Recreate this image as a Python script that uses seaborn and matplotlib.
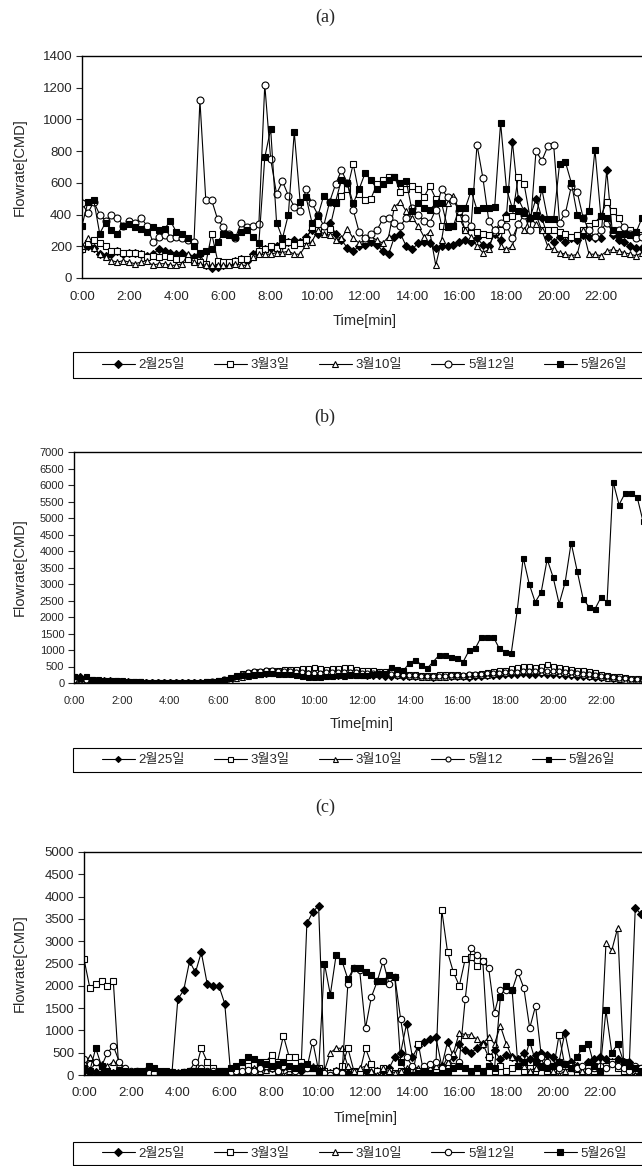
import numpy as np
import matplotlib
matplotlib.use("Agg")
import matplotlib.pyplot as plt
from matplotlib.patches import Rectangle
import seaborn as sns

# ---------------- data ----------------
hours = np.arange(96) * 0.25
names = ["2월25일", "3월3일", "3월10일", "5월12일", "5월26일"]
names_b = ["2월25일", "3월3일", "3월10일", "5월12", "5월26일"]
xtick_pos = [0, 2, 4, 6, 8, 10, 12, 14, 16, 18, 20, 22]
xtick_labels = ["0:00", "2:00", "4:00", "6:00", "8:00", "10:00", "12:00",
                "14:00", "16:00", "18:00", "20:00", "22:00"]
panel_titles = ["(a)", "(b)", "(c)"]

# panel (a)
a_0225 = [180,200,190,150, 140,150,170,150, 160,160,150,140, 150,180,170,160, 150,160,140,130, 150,80,60,70,
          80,90,110,120, 110,150,170,180, 190,200,210,230, 240,230,260,300, 280,310,350,280, 240,190,170,200,
          210,230,210,170, 150,260,280,200, 180,220,230,220, 190,200,200,210, 230,240,230,250, 210,200,280,240,
          400,860,500,420, 380,500,380,260, 230,260,230,250, 240,270,260,250, 250,680,270,240, 230,200,190,190]
a_0303 = [180,220,240,220, 200,170,170,160, 160,160,150,130, 140,130,140,130, 120,120,120,110, 100,90,280,110,
          100,100,110,120, 120,130,170,180, 200,190,210,230, 210,220,240,320, 300,290,310,470, 520,560,720,530,
          490,500,590,620, 640,640,540,560, 580,560,510,580, 500,330,330,330, 380,300,320,290, 280,270,290,300,
          380,390,640,590, 380,400,300,300, 300,290,280,260, 270,300,330,350, 390,480,420,380, 310,300,290,270]
a_0310 = [200,250,190,150, 130,110,100,110, 100,90,100,110, 80,90,90,80, 80,90,150,100, 90,80,80,80,
          80,80,90,80, 80,130,150,150, 150,160,160,170, 150,150,210,230, 300,280,270,240, 250,310,250,220,
          240,260,240,220, 260,450,480,420, 380,330,260,290, 80,240,470,520, 420,300,260,200, 160,180,310,200,
          180,200,350,300, 380,340,300,200, 180,160,150,140, 150,300,150,150, 140,170,180,170, 160,150,140,160]
a_0512 = [470,410,480,400, 360,400,380,330, 360,350,380,330, 230,260,270,250, 260,250,240,230, 1120,490,490,370,
          320,280,250,350, 320,330,340,1220, 750,530,610,520, 450,420,560,470, 400,330,480,590, 680,600,430,290,
          250,280,300,370, 380,350,330,380, 440,400,360,350, 430,560,510,490, 420,380,330,840, 630,360,300,350,
          330,250,340,400, 300,800,740,830, 840,350,410,580, 540,380,300,260, 300,350,290,300, 320,280,250,260]
a_0526 = [330,480,490,280, 350,300,280,330, 340,320,310,290, 320,300,310,360, 290,280,250,200, 160,170,180,230,
          280,270,260,290, 300,260,220,760, 940,350,250,400, 920,480,510,350, 390,520,480,480, 620,600,470,560,
          660,620,560,590, 620,640,600,610, 420,470,440,430, 470,470,320,330, 440,440,550,430, 440,440,450,980,
          560,440,420,410, 380,390,560,370, 370,720,730,600, 400,380,420,810, 390,380,300,280, 280,270,290,380]

# panel (b)
b_0225 = [150,200,120,100, 90,80,80,70, 60,50,40,30, 30,30,30,30, 30,30,30,30, 30,30,40,40,
          50,80,120,160, 200,230,250,270, 280,300,290,280, 300,320,300,280, 260,250,240,230, 220,230,250,240,
          230,220,210,200, 190,180,200,190, 180,170,180,170, 160,170,180,190, 180,170,160,180, 190,200,210,220,
          230,240,250,260, 250,240,260,250, 240,230,220,200, 190,180,170,160, 150,140,130,120, 110,100,100,90]
b_0303 = [200,150,130,110, 100,90,80,80, 70,60,50,50, 40,40,40,40, 40,40,40,40, 40,40,50,60,
          80,120,180,250, 300,330,350,370, 380,390,400,410, 420,430,440,460, 480,450,420,440, 460,480,500,420,
          400,380,380,360, 350,330,320,300, 280,260,250,240, 250,260,270,280, 260,250,260,280, 300,320,350,380,
          400,450,500,520, 510,480,520,580, 520,480,450,420, 400,380,350,320, 280,250,220,200, 180,160,150,140]
b_0310 = [120,100,90,80, 70,60,60,50, 40,40,30,30, 20,20,20,20, 20,20,20,20, 20,20,30,30,
          40,60,100,140, 180,220,250,280, 300,310,330,340, 350,340,330,320, 300,280,260,240, 230,220,230,240,
          250,260,270,280, 270,260,240,230, 220,200,190,180, 170,180,190,200, 200,210,220,230, 240,250,270,290,
          300,320,340,350, 360,350,340,330, 320,310,300,280, 260,240,220,200, 180,160,140,120, 100,90,80,70]
b_0512 = [100,90,80,70, 60,60,50,50, 40,40,40,30, 30,30,30,30, 30,30,30,30, 30,30,40,50,
          70,110,160,220, 280,320,350,370, 380,380,370,360, 350,340,320,300, 300,310,320,330, 340,330,320,320,
          310,300,300,290, 280,270,260,250, 240,230,220,210, 200,210,220,230, 240,250,260,270, 280,290,300,310,
          320,330,340,350, 360,370,380,370, 360,350,340,320, 300,280,260,240, 220,200,180,160, 140,120,110,100]
b_0526 = [200,150,220,120, 110,100,100,90, 80,70,60,50, 40,40,40,40, 40,40,40,40, 40,40,50,60,
          80,120,160,200, 230,250,270,280, 290,300,280,270, 260,250,200,180, 170,180,200,220, 240,250,260,250,
          230,240,280,300, 300,500,420,380, 600,700,550,450, 650,850,850,800, 750,650,1000,1050, 1400,1400,1400,1050,
          950,900,2200,3800, 3000,2450,2750,3750, 3200,2400,3050,4250, 3400,2550,2300,2250, 2600,2450,6100,5400,
          5750,5750,5650,4900][:96]

# panel (c)
c_0225 = [100,80,60,50, 50,40,50,40, 40,50,60,50, 60,50,0,50, 1700,1900,2550,2300, 2750,2050,2000,2000,
          1600,50,60,80, 100,120,150,130, 150,200,180,150, 120,100,3400,3650, 3800,100,50,100, 80,50,0,50,
          100,50,80,100, 150,400,500,1150, 400,650,750,800, 850,200,750,400, 700,550,500,600, 700,400,550,350,
          450,400,350,500, 350,450,500,450, 400,300,950,300, 200,150,300,350, 400,350,300,350, 300,300,3750,3600]
c_0303 = [2600,1950,2050,2100, 2000,2100,0,80, 60,50,60,50, 40,50,50,40, 50,60,80,100, 600,300,150,100,
          80,100,120,150, 200,250,200,300, 450,300,880,400, 400,300,200,150, 150,100,50,100, 200,600,100,50,
          600,250,100,150, 100,50,100,50, 0,700,0,100, 200,3700,2750,2300, 2000,2600,2650,2450, 2550,400,100,200,
          100,150,200,100, 150,100,50,100, 100,900,200,150, 0,100,150,100, 150,200,300,150, 100,150,100,150]
c_0310 = [300,400,300,250, 200,300,250,100, 80,60,50,50, 40,50,40,50, 60,50,80,60, 100,80,60,50,
          80,60,100,80, 100,150,100,120, 150,100,0,100, 150,200,150,200, 150,100,500,600, 600,200,100,150,
          200,100,0,150, 100,50,100,150, 200,150,100,150, 200,100,300,500, 950,900,900,800, 700,850,700,1100,
          700,400,300,200, 100,150,300,200, 100,0,100,150, 200,100,0,150, 200,2950,2800,3300, 300,200,0,100]
c_0512 = [350,250,300,200, 500,650,300,150, 100,80,60,50, 50,40,50,60, 50,60,100,300, 150,100,80,60,
          50,60,80,100, 120,100,150,200, 150,100,200,150, 100,200,150,750, 100,50,0,100, 50,2050,2400,2350,
          1050,1750,2100,2550, 2050,2200,1250,400, 200,100,200,250, 300,150,400,200, 300,1700,2850,2700,
          2550,2400,1400,1900, 1900,1900,2300,1950, 1050,1550,400,300, 200,150,250,200, 150,200,100,150,
          200,150,250,200, 150,100,200,150]
c_0526 = [150,100,600,200, 100,50,100,80, 60,80,100,200, 150,100,80,60, 50,60,80,100, 80,60,50,80,
          100,150,200,300, 400,350,300,250, 200,250,300,200, 150,200,250,150, 100,2500,1800,2700, 2550,2150,2400,2400,
          2300,2250,2100,2100, 2250,2200,300,100, 0,50,100,50, 0,50,100,150, 200,150,100,150, 100,200,150,1750,
          2000,1900,200,300, 750,300,200,150, 200,300,250,150, 400,600,700,200, 100,1450,500,700, 300,200,150,100]

# ---------------- drawing ----------------
sns.set_style("white")
plt.rcParams["font.family"] = ["Liberation Sans", "Noto Sans CJK KR"]
plt.rcParams["axes.unicode_minus"] = False

W, H = 642, 1166
fig = plt.figure(figsize=(W / 100, H / 100), dpi=100)
fig.patch.set_facecolor("white")


def px_axes(left, top, bottom, right):
    return fig.add_axes([left / W, 1 - bottom / H, (right - left) / W, (bottom - top) / H])


styles = [
    dict(marker="D", markerfacecolor="black"),
    dict(marker="s", markerfacecolor="white"),
    dict(marker="^", markerfacecolor="white"),
    dict(marker="o", markerfacecolor="white"),
    dict(marker="s", markerfacecolor="black"),
]

panels = [
    dict(data=[a_0225, a_0303, a_0310, a_0512, a_0526], labels=names, ymax=1400, ystep=200,
         box=(82, 56, 278, 648), title_y=17, ms=5.0, tick_fs=9.5, legend_y=(352, 378)),
    dict(data=[b_0225, b_0303, b_0310, b_0512, b_0526], labels=names_b, ymax=7000, ystep=500,
         box=(74, 452, 683, 649), title_y=417, ms=3.6, tick_fs=8.0, legend_y=(748, 772)),
    dict(data=[c_0225, c_0303, c_0310, c_0512, c_0526], labels=names, ymax=5000, ystep=500,
         box=(84, 852, 1075, 647), title_y=807, ms=4.6, tick_fs=9.5, legend_y=(1142, 1165)),
]

for p, title in zip(panels, panel_titles):
    l, t, b, r = p["box"]
    ax = px_axes(l, t, b, r)
    for vals, lab, st in zip(p["data"], p["labels"], styles):
        ms = p["ms"] * (0.85 if st["marker"] == "D" else 1.0)
        sns.lineplot(x=hours, y=np.asarray(vals, dtype=float), ax=ax, color="black",
                     linewidth=0.8, markersize=ms, markeredgecolor="black",
                     markeredgewidth=0.8, legend=False, label=lab, **st)
    ax.set_xlim(0, 24)
    ax.set_ylim(0, p["ymax"])
    ax.set_xticks(xtick_pos, xtick_labels)
    ax.set_yticks(np.arange(0, p["ymax"] + 1, p["ystep"]))
    ax.tick_params(axis="x", length=0, pad=9, labelsize=p["tick_fs"])
    ax.tick_params(axis="y", length=4, width=0.8, direction="out", pad=3,
                   labelsize=p["tick_fs"], left=True)
    for s in ax.spines.values():
        s.set_color("black")
        s.set_linewidth(1.0)
    ax.set_xlabel("Time[min]", fontsize=10.5, labelpad=8)
    ax.set_ylabel("Flowrate[CMD]", fontsize=10.5)
    ax.yaxis.set_label_coords(27 / W, 1 - (t + b) / 2 / H, transform=fig.transFigure)

    fig.text(325 / W, 1 - p["title_y"] / H, title, family="Liberation Serif",
             fontsize=13, ha="center", va="center")

    ly0, ly1 = p["legend_y"]
    fig.patches.append(Rectangle((73 / W, 1 - ly1 / H), (700 - 73) / W, (ly1 - ly0) / H,
                                 transform=fig.transFigure, fill=False, lw=0.8,
                                 ec="black", zorder=5))
    handles = ax.get_lines()[:5]
    fig.legend(handles, p["labels"], loc="center left",
               bbox_to_anchor=(95 / W, 1 - (ly0 + ly1) / 2 / H), ncol=5, frameon=False,
               handlelength=2.5, handletextpad=0.3, columnspacing=2.2, borderpad=0,
               fontsize=9.5, markerscale=1.0)

fig.savefig("out.png", dpi=100, facecolor="white")
